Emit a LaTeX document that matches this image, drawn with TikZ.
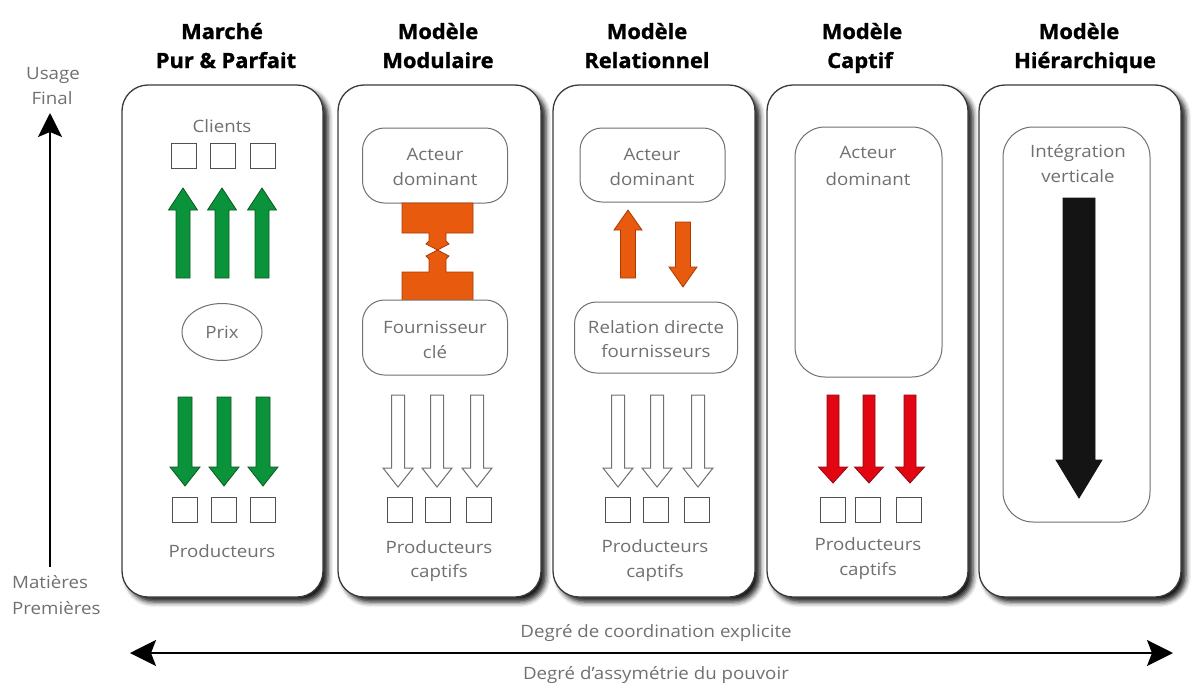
\documentclass[tikz,border=0pt]{standalone}
\usepackage{fontspec}
\setmainfont{Open Sans}[FakeStretch=1.1]
\newfontfamily\ttlfont{Open Sans Bold}[FakeStretch=1.04, FakeBold=1.3]
\usetikzlibrary{arrows.meta,shadows.blur,shapes.geometric}
\definecolor{txtgray}{HTML}{707070}
\definecolor{boxline}{HTML}{3A3A3A}
\definecolor{ibline}{HTML}{707070}
\definecolor{sqline}{HTML}{505050}
\definecolor{agreen}{HTML}{0A933A}
\definecolor{agreenD}{HTML}{0A5A22}
\definecolor{aorange}{HTML}{E85A0E}
\definecolor{aorangeD}{HTML}{A83C05}
\definecolor{ared}{HTML}{E20613}
\definecolor{aredD}{HTML}{8E0A10}
\definecolor{ablack}{HTML}{141414}
\tikzset{
 panel/.style={draw=boxline, line width=1.3, fill=white, rounded corners=26,
   blur shadow={shadow xshift=5pt,shadow yshift=-5pt,shadow blur radius=5pt,shadow opacity=90},
   minimum height=512, inner sep=0},
 ibox/.style={draw=ibline, line width=1, fill=white, rounded corners=22, inner sep=0},
 sq/.style={draw=sqline, line width=1.2, minimum width=25, minimum height=25, inner sep=0},
 gtxt/.style={text=txtgray, font=\fontsize{17}{20}\selectfont, anchor=base, inner sep=0},
 ttl/.style={text=black, font=\fontsize{21}{25}\selectfont\ttlfont, anchor=base, inner sep=0},
 garrow/.style={fill=agreen, draw=agreenD, line width=0.8, line join=miter},
 oarrow/.style={fill=aorange, draw=aorangeD, line width=0.8, line join=miter},
 rarrow/.style={fill=ared, draw=aredD, line width=0.8, line join=miter},
 warrow/.style={fill=white, draw=ibline, line width=1, line join=miter},
 karrow/.style={fill=ablack, draw=ablack, line width=0.8, line join=miter},
 axis/.style={line width=2, draw=black},
}
% #1 style, #2 x, #3 tail y, #4 head base y, #5 tip y, #6 half shaft, #7 half head
\newcommand\myarrow[7]{\draw[#1] (#2-#6,#3) -- (#2-#6,#4) -- (#2-#7,#4) -- (#2,#5) -- (#2+#7,#4) -- (#2+#6,#4) -- (#2+#6,#3) -- cycle;}
\begin{document}
\begin{tikzpicture}[x=1pt,y=-1pt]
\useasboundingbox (0,0) rectangle (1195,683);
% panels
\node[panel, minimum width=201] (p1) at (222.5,341) {};
\node[panel, minimum width=203] (p2) at (439.5,341) {};
\node[panel, minimum width=202] (p3) at (654,341) {};
\node[panel, minimum width=201] (p4) at (867.5,341) {};
\node[panel, minimum width=202] (p5) at (1080,341) {};
% titles
\node[ttl] (t1a) at (222,39) {Marché};
\node[ttl] (t1b) at (226,68) {Pur \& Parfait};
\node[ttl] (t2a) at (438,39) {Modèle};
\node[ttl] (t2b) at (438,68) {Modulaire};
\node[ttl] (t3a) at (647,39) {Modèle};
\node[ttl] (t3b) at (647,68) {Relationnel};
\node[ttl] (t4a) at (862,39) {Modèle};
\node[ttl] (t4b) at (860,68) {Captif};
\node[ttl] (t5a) at (1079,39) {Modèle};
\node[ttl] (t5b) at (1085,68) {Hiérarchique};
% left axis
\coordinate (axbot) at (50,567);
\coordinate (axtop) at (50,113);
\draw[axis, -{Stealth[length=24pt,width=24pt,inset=5pt]}] (axbot) -- (axtop);
\node[gtxt] (usage) at (53,79) {Usage};
\node[gtxt] (final) at (52,104) {Final};
\node[gtxt, anchor=base west] (mat) at (12,588) {Matières};
\node[gtxt, anchor=base west] (prem) at (12,614) {Premières};
% bottom axis
\coordinate (hl) at (130,653);
\coordinate (hr) at (1173,653);
\draw[axis, {Stealth[length=26pt,width=26pt,inset=5pt]}-{Stealth[length=26pt,width=26pt,inset=5pt]}] (hl) -- (hr);
\node[gtxt] (coord) at (656,637) {Degré de coordination explicite};
\node[gtxt] (assym) at (656,679) {Degré d’assymétrie du pouvoir};
% ---- panel 1
\node[gtxt] (cli) at (222,132) {Clients};
\node[sq] (s1a) at (184,156) {};
\node[sq] (s1b) at (223,156) {};
\node[sq] (s1c) at (263,156) {};
\myarrow{garrow}{183}{278}{210}{188}{7}{14.5}
\myarrow{garrow}{222}{278}{210}{188}{7}{14.5}
\myarrow{garrow}{262}{278}{210}{188}{7}{14.5}
\node[ellipse, draw=ibline, line width=1, minimum width=80, minimum height=57, inner sep=0,
  text=txtgray, font=\fontsize{17}{20}\selectfont] (prix) at (222,332) {Prix};
\myarrow{garrow}{185}{397}{467}{486}{7}{15}
\myarrow{garrow}{224}{397}{467}{486}{7}{15}
\myarrow{garrow}{263}{397}{467}{486}{7}{15}
\node[sq] (s1d) at (185,510) {};
\node[sq] (s1e) at (224,510) {};
\node[sq] (s1f) at (263,510) {};
\node[gtxt] (prod1) at (222,557) {Producteurs};
% ---- panel 2
\node[ibox, minimum width=145, minimum height=75] (a2) at (435,165.5) {};
\node[gtxt] (a2t1) at (435,160) {Acteur};
\node[gtxt] (a2t2) at (435,185) {dominant};
\draw[oarrow] (402,203) -- (473,203) -- (473,233) -- (446,233) -- (446,241) -- (449,244) -- (437.5,250)
  -- (426,244) -- (429,241) -- (429,233) -- (402,233) -- cycle;
\draw[oarrow] (402,301) -- (473,301) -- (473,272) -- (446,272) -- (446,259) -- (449,256) -- (437.5,250)
  -- (426,256) -- (429,259) -- (429,272) -- (402,272) -- cycle;
\node[ibox, minimum width=145, minimum height=75] (f2) at (435,337.5) {};
\node[gtxt] (f2t1) at (435,333) {Fournisseur};
\node[gtxt] (f2t2) at (435,358) {clé};
\myarrow{warrow}{398}{395}{468}{487}{6.5}{15}
\myarrow{warrow}{437}{395}{468}{487}{6.5}{15}
\myarrow{warrow}{477}{395}{468}{487}{6.5}{15}
\node[sq] (s2a) at (400,510) {};
\node[sq] (s2b) at (438,510) {};
\node[sq] (s2c) at (479,510) {};
\node[gtxt] (prod2) at (439,553) {Producteurs};
\node[gtxt] (capt2) at (439,577) {captifs};
% ---- panel 3
\node[ibox, minimum width=145, minimum height=74] (a3) at (652.5,165) {};
\node[gtxt] (a3t1) at (652,160) {Acteur};
\node[gtxt] (a3t2) at (652,185) {dominant};
\myarrow{oarrow}{628}{278}{230}{210}{7.5}{14}
\myarrow{oarrow}{683}{222}{267}{287}{7.5}{14}
\node[ibox, minimum width=163, minimum height=71] (r3) at (656,337.5) {};
\node[gtxt] (r3t1) at (656,333) {Relation directe};
\node[gtxt] (r3t2) at (656,357) {fournisseurs};
\myarrow{warrow}{618}{395}{468}{487}{6.5}{15}
\myarrow{warrow}{657}{395}{468}{487}{6.5}{15}
\myarrow{warrow}{698}{395}{468}{487}{6.5}{15}
\node[sq] (s3a) at (618,510) {};
\node[sq] (s3b) at (656,510) {};
\node[sq] (s3c) at (697,510) {};
\node[gtxt] (prod3) at (655,552) {Producteurs};
\node[gtxt] (capt3) at (655,577) {captifs};
% ---- panel 4
\node[ibox, rounded corners=30, minimum width=147, minimum height=250] (a4) at (868.5,252) {};
\node[gtxt] (a4t1) at (868,158) {Acteur};
\node[gtxt] (a4t2) at (868,185) {dominant};
\myarrow{rarrow}{833}{395}{467}{483}{6}{14.5}
\myarrow{rarrow}{869}{395}{467}{483}{6}{14.5}
\myarrow{rarrow}{910}{395}{467}{483}{6}{14.5}
\node[sq] (s4a) at (833,510) {};
\node[sq] (s4b) at (868,510) {};
\node[sq] (s4c) at (909,510) {};
\node[gtxt] (prod4) at (868,550) {Producteurs};
\node[gtxt] (capt4) at (868,575) {captifs};
% ---- panel 5
\node[ibox, rounded corners=30, minimum width=147, minimum height=395] (i5) at (1076.5,324.5) {};
\node[gtxt] (i5t1) at (1078,157) {Intégration};
\node[gtxt] (i5t2) at (1078,182) {verticale};
\myarrow{karrow}{1079}{198}{460}{498}{16}{23}
\end{tikzpicture}
\end{document}
